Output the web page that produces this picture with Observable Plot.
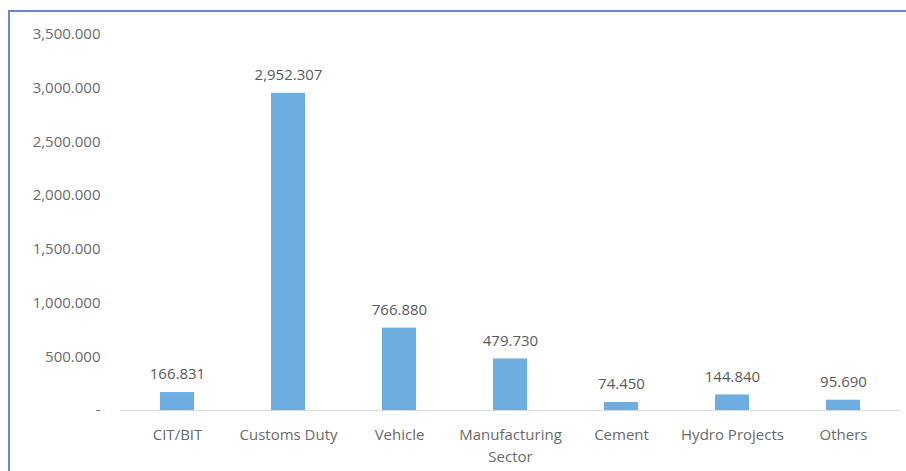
<!DOCTYPE html>
<html>
<head>
<meta charset="utf-8">
<script src="https://cdn.jsdelivr.net/npm/d3@7"></script>
<script src="https://cdn.jsdelivr.net/npm/@observablehq/plot@0.6"></script>
<style>
  html, body { margin: 0; padding: 0; background: #fff; }
  #wrap { position: relative; width: 906px; height: 471px; overflow: hidden; }
  #frame { position: absolute; left: 8px; top: 10px; width: 1000px; height: 600px;
           border-left: 2px solid #6f85d2; border-top: 2px solid #6f85d2; box-sizing: border-box; }
  #chart { position: absolute; left: 0; top: 0; }
  #chart svg { font-family: "Open Sans", sans-serif; }
</style>
</head>
<body>
<div id="wrap"><div id="frame"></div><div id="chart"></div></div>
<script>
const categories = ["CIT/BIT", "Customs Duty", "Vehicle", "Manufacturing Sector", "Cement", "Hydro Projects", "Others"];
const values = [166.831, 2952.307, 766.880, 479.730, 74.450, 144.840, 95.690];
const yTicks = [0, 500, 1000, 1500, 2000, 2500, 3000, 3500];

const data = categories.map((c, i) => ({category: c, value: values[i]}));
const fmt = d3.format(",.3f");
const textColor = "#6a6a6a";

const chart = Plot.plot({
  width: 906,
  height: 471,
  marginLeft: 120,
  marginRight: 6,
  marginTop: 34,
  marginBottom: 61,
  style: {fontFamily: "Open Sans, sans-serif", background: "transparent"},
  x: {domain: categories, paddingInner: 0.69, paddingOuter: 0.345},
  y: {domain: [0, 3500]},
  marks: [
    Plot.axisY({ticks: yTicks, tickSize: 0, tickPadding: 20, fontSize: 15, fill: textColor,
      tickFormat: d => d === 0 ? "-" : fmt(d), label: null,
      style: {letterSpacing: "0.4px"}}),
    Plot.axisX({tickSize: 0, tickPadding: 14, fontSize: 15, fill: textColor, label: null,
      lineHeight: 1.45,
      tickFormat: d => d === "Manufacturing Sector" ? "Manufacturing\nSector" : d}),
    Plot.barY(data, {x: "category", y: "value", fill: "#6dade0"}),
    Plot.ruleY([0], {stroke: "#d9d9d9", strokeWidth: 1}),
    Plot.text(data, {x: "category", y: "value", text: d => fmt(d.value), dy: -18,
      fontSize: 15, fill: "#5a5a5a", style: {letterSpacing: "0.3px"}})
  ]
});
document.getElementById("chart").appendChild(chart);
</script>
</body>
</html>
